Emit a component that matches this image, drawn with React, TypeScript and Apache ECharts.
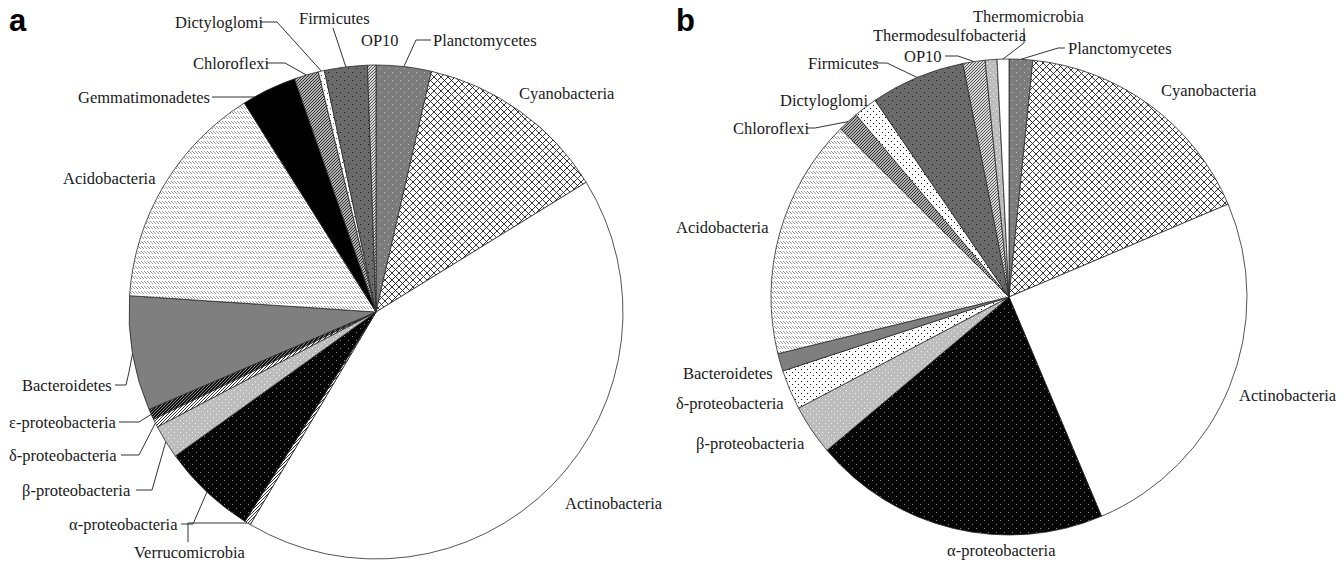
import React, { useEffect, useRef } from 'react';
import * as echarts from 'echarts';

// ---- data (percent of sequences) ----
const namesA = ['Planctomycetes', 'Cyanobacteria', 'Actinobacteria', 'Verrucomicrobia', 'α-proteobacteria', 'β-proteobacteria', 'δ-proteobacteria', 'ε-proteobacteria', 'Bacteroidetes', 'Acidobacteria', 'Gemmatimonadetes', 'Chloroflexi', 'Dictyloglomi', 'Firmicutes', 'OP10'];
const valuesA = [3.6, 12.6, 42.3, 0.4, 6.2, 2.2, 0.55, 0.7, 7.5, 15.0, 3.6, 1.6, 0.4, 2.8, 0.55];

const namesB = ['Planctomycetes', 'Cyanobacteria', 'Actinobacteria', 'α-proteobacteria', 'β-proteobacteria', 'δ-proteobacteria', 'Bacteroidetes', 'Acidobacteria', 'Chloroflexi', 'Dictyloglomi', 'Firmicutes', 'OP10', 'Thermodesulfobacteria', 'Thermomicrobia'];
const valuesB = [1.6, 17.0, 25.0, 20.2, 3.4, 2.7, 1.2, 16.3, 1.4, 1.6, 6.4, 1.5, 0.8, 0.8];

// ---- label placement (layout only) ----
type LabelPos = { x: number; y: number; line?: number[][] };
const labelPosA: Record<string, LabelPos> = {
  'Planctomycetes': { x: 433, y: 40, line: [[431, 40], [416, 40]] },
  'Cyanobacteria': { x: 519, y: 93 },
  'Actinobacteria': { x: 565, y: 503 },
  'Verrucomicrobia': { x: 134, y: 552, line: [[188, 542], [188, 523]] },
  'α-proteobacteria': { x: 69, y: 524, line: [[181, 524], [193, 524]] },
  'β-proteobacteria': { x: 22, y: 490, line: [[136, 490], [152, 490]] },
  'δ-proteobacteria': { x: 9, y: 455, line: [[121, 455], [139, 455]] },
  'ε-proteobacteria': { x: 9, y: 422, line: [[119, 422], [139, 422]] },
  'Bacteroidetes': { x: 22, y: 385, line: [[115, 385], [126, 385], [129, 372]] },
  'Acidobacteria': { x: 63, y: 178 },
  'Gemmatimonadetes': { x: 78, y: 97, line: [[212, 97], [255, 97]] },
  'Chloroflexi': { x: 193, y: 63, line: [[266, 63], [285, 63]] },
  'Dictyloglomi': { x: 175, y: 22, line: [[260, 22], [277, 22]] },
  'Firmicutes': { x: 299, y: 18, line: [[333, 28], [337, 40]] },
  'OP10': { x: 361, y: 40 },
};
const labelPosB: Record<string, LabelPos> = {
  'Planctomycetes': { x: 1068, y: 48, line: [[1065, 48], [1058, 48]] },
  'Cyanobacteria': { x: 1161, y: 90 },
  'Actinobacteria': { x: 1239, y: 395 },
  'α-proteobacteria': { x: 947, y: 550 },
  'β-proteobacteria': { x: 696, y: 443 },
  'δ-proteobacteria': { x: 676, y: 403 },
  'Bacteroidetes': { x: 683, y: 373 },
  'Acidobacteria': { x: 676, y: 227 },
  'Chloroflexi': { x: 733, y: 128, line: [[806, 128], [815, 128]] },
  'Dictyloglomi': { x: 780, y: 100 },
  'Firmicutes': { x: 808, y: 63, line: [[875, 63], [887, 63]] },
  'OP10': { x: 904, y: 56, line: [[945, 56], [958, 56]] },
  'Thermodesulfobacteria': { x: 873, y: 35 },
  'Thermomicrobia': { x: 973, y: 16, line: [[1024, 28], [1024, 43]] },
};

// ---- fill patterns ----
type Draw = (ctx: CanvasRenderingContext2D, w: number, h: number) => void;
function makePattern(w: number, h: number, draw: Draw): any {
  const c = document.createElement('canvas');
  c.width = w;
  c.height = h;
  const ctx = c.getContext('2d') as CanvasRenderingContext2D;
  draw(ctx, w, h);
  return { image: c.toDataURL(), repeat: 'repeat', imageWidth: w, imageHeight: h };
}
function dots(bg: string, fg: string, step: number, size: number) {
  return makePattern(step * 2, step * 2, (ctx, w, h) => {
    ctx.fillStyle = bg;
    ctx.fillRect(0, 0, w, h);
    ctx.fillStyle = fg;
    ctx.fillRect(0, 0, size, size);
    ctx.fillRect(step, step, size, size);
  });
}
function diag(bg: string, fg: string, step: number, dir: number, lw = 1) {
  return makePattern(step, step, (ctx, w, h) => {
    ctx.fillStyle = bg;
    ctx.fillRect(0, 0, w, h);
    ctx.strokeStyle = fg;
    ctx.lineWidth = lw;
    ctx.beginPath();
    for (let k = -1; k <= 1; k++) {
      if (dir > 0) {
        ctx.moveTo(k * w - 1, h + 1);
        ctx.lineTo(k * w + w + 1, -1);
      } else {
        ctx.moveTo(k * w - 1, -1);
        ctx.lineTo(k * w + w + 1, h + 1);
      }
    }
    ctx.stroke();
  });
}
function cross() {
  return makePattern(7, 7, (ctx, w, h) => {
    ctx.fillStyle = '#ffffff';
    ctx.fillRect(0, 0, w, h);
    ctx.strokeStyle = '#222';
    ctx.lineWidth = 0.9;
    ctx.beginPath();
    for (let k = -1; k <= 1; k++) {
      ctx.moveTo(k * w - 1, h + 1);
      ctx.lineTo(k * w + w + 1, -1);
      ctx.moveTo(k * w - 1, -1);
      ctx.lineTo(k * w + w + 1, h + 1);
    }
    ctx.stroke();
  });
}
function zig() {
  return makePattern(3, 5, (ctx, w, h) => {
    ctx.fillStyle = '#ffffff';
    ctx.fillRect(0, 0, w, h);
    ctx.fillStyle = '#9a9a9a';
    ctx.fillRect(0, 1, 1, 1);
    ctx.fillRect(1, 2, 1, 1);
    ctx.fillRect(2, 3, 1, 1);
  });
}

export default function App() {
  const ref = useRef<HTMLDivElement>(null);
  useEffect(() => {
    if (!ref.current) return;
    const chart = echarts.init(ref.current, null, { renderer: 'svg' });

    const P: Record<string, any> = {
      grayDots: dots('#7c7c7c', '#c4c4c4', 4, 1),
      crossHatch: cross(),
      white: '#ffffff',
      whiteDiag: diag('#ffffff', '#333', 3, 1),
      blackDots: dots('#050505', '#8a8a8a', 4, 1),
      lightDots: dots('#bdbdbd', '#f2f2f2', 3, 1),
      confetti: dots('#ffffff', '#111', 3, 1),
      blackDiag: diag('#111', '#888', 3, 1),
      gray: '#7f7f7f',
      zig: zig(),
      black: '#000000',
      grayDiag: diag('#b0b0b0', '#333', 3, 1),
      whiteDots: dots('#ffffff', '#555', 3, 1),
      darkDots: dots('#6a6a6a', '#1a1a1a', 4, 1),
      lightDiag: diag('#d6d6d6', '#555', 3, 1),
    };
    const fillA: Record<string, string> = {
      'Planctomycetes': 'grayDots', 'Cyanobacteria': 'crossHatch', 'Actinobacteria': 'white',
      'Verrucomicrobia': 'whiteDiag', 'α-proteobacteria': 'blackDots', 'β-proteobacteria': 'lightDots',
      'δ-proteobacteria': 'whiteDiag', 'ε-proteobacteria': 'blackDiag', 'Bacteroidetes': 'gray',
      'Acidobacteria': 'zig', 'Gemmatimonadetes': 'black', 'Chloroflexi': 'grayDiag',
      'Dictyloglomi': 'whiteDots', 'Firmicutes': 'darkDots', 'OP10': 'lightDiag',
    };
    const fillB: Record<string, string> = {
      'Planctomycetes': 'grayDots', 'Cyanobacteria': 'crossHatch', 'Actinobacteria': 'white',
      'α-proteobacteria': 'blackDots', 'β-proteobacteria': 'lightDots', 'δ-proteobacteria': 'confetti',
      'Bacteroidetes': 'gray', 'Acidobacteria': 'zig', 'Chloroflexi': 'grayDiag',
      'Dictyloglomi': 'confetti', 'Firmicutes': 'darkDots', 'OP10': 'lightDiag',
      'Thermodesulfobacteria': 'lightDots', 'Thermomicrobia': 'white',
    };

    const labelFont = {
      fontFamily: '"Liberation Serif", "Times New Roman", serif',
      fontSize: 16.5,
      color: '#1a1a1a',
    };

    const buildData = (names: string[], values: number[], fills: Record<string, string>, pos: Record<string, LabelPos>) =>
      names.map((n, i) => ({
        name: n,
        value: values[i],
        itemStyle: { color: P[fills[n]] },
        labelLine: { show: !!pos[n].line },
      }));

    const makeLayout = (names: string[], pos: Record<string, LabelPos>) => (p: any) => {
      const L = pos[names[p.dataIndex]];
      const res: any = { x: L.x, y: L.y, align: 'left', verticalAlign: 'middle' };
      if (L.line && p.labelLinePoints && p.labelLinePoints.length) {
        res.labelLinePoints = [...L.line, p.labelLinePoints[0]];
      }
      return res;
    };

    const pieBase = {
      type: 'pie',
      startAngle: 90,
      clockwise: true,
      avoidLabelOverlap: false,
      minAngle: 0,
      silent: true,
      emphasis: { disabled: true },
      label: { show: true, position: 'outside', formatter: '{b}', ...labelFont },
      labelLine: { show: true, length: 5, length2: 5, lineStyle: { color: '#333', width: 1 } },
      itemStyle: { borderColor: '#2a2a2a', borderWidth: 0.8 },
    };

    chart.setOption({
      animation: false,
      backgroundColor: '#ffffff',
      graphic: [
        { type: 'text', left: 9, top: 5, style: { text: 'a', font: 'bold 31px "Liberation Sans", Arial, sans-serif', fill: '#000' } },
        { type: 'text', left: 676, top: 5, style: { text: 'b', font: 'bold 31px "Liberation Sans", Arial, sans-serif', fill: '#000' } },
      ],
      series: [
        {
          ...pieBase,
          name: 'a',
          center: [376, 312],
          radius: 247,
          data: buildData(namesA, valuesA, fillA, labelPosA),
          labelLayout: makeLayout(namesA, labelPosA),
        },
        {
          ...pieBase,
          name: 'b',
          center: [1009, 297],
          radius: 238,
          data: buildData(namesB, valuesB, fillB, labelPosB),
          labelLayout: makeLayout(namesB, labelPosB),
        },
      ],
    });
    return () => chart.dispose();
  }, []);
  return (
    <div
      ref={ref}
      style={{ position: 'absolute', left: 0, top: 0, width: 1341, height: 561, background: '#fff' }}
    />
  );
}
